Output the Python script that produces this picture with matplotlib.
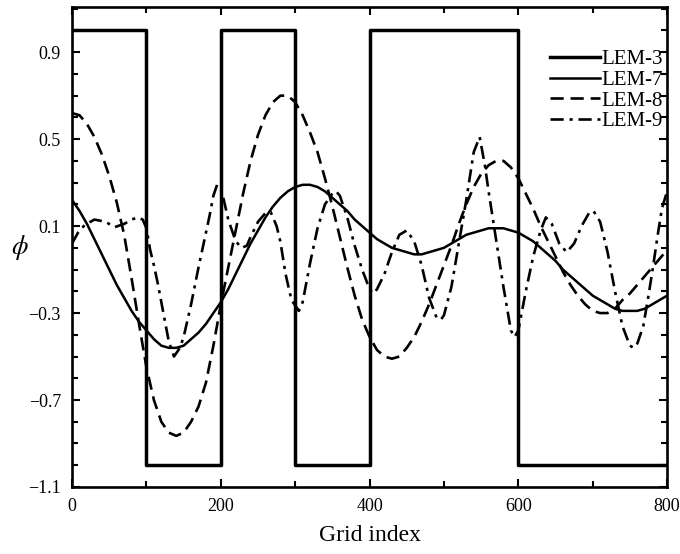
import matplotlib
matplotlib.use("Agg")
import matplotlib.pyplot as plt
from matplotlib.ticker import MultipleLocator

# LEM-3: piecewise constant levels between edges
LEM3_EDGES = [0, 100, 200, 300, 400, 600, 800]
LEM3_LEVELS = [1.0, -1.0, 1.0, -1.0, 1.0, -1.0]

# LEM-7 (solid), sampled every 10 grid points
LEM7_X = list(range(0, 801, 10))
LEM7_Y = [0.22, 0.17, 0.11, 0.04, -0.03, -0.10, -0.17, -0.23, -0.29, -0.34,
          -0.38, -0.42, -0.45, -0.46, -0.46, -0.45, -0.42, -0.39, -0.35, -0.30,
          -0.25, -0.19, -0.12, -0.05, 0.02, 0.08, 0.14, 0.19, 0.23, 0.26,
          0.28, 0.29, 0.29, 0.28, 0.26, 0.23, 0.20, 0.17, 0.13, 0.10,
          0.07, 0.04, 0.02, 0.00, -0.01, -0.02, -0.03, -0.03, -0.02, -0.01,
          0.00, 0.02, 0.04, 0.06, 0.07, 0.08, 0.09, 0.09, 0.09, 0.08,
          0.07, 0.05, 0.03, 0.00, -0.03, -0.06, -0.10, -0.13, -0.16, -0.19,
          -0.22, -0.24, -0.26, -0.28, -0.29, -0.29, -0.29, -0.28, -0.26, -0.24,
          -0.22]

# LEM-8 (dashed), sampled every 10 grid points
LEM8_X = list(range(0, 801, 10))
LEM8_Y = [0.62, 0.61, 0.57, 0.51, 0.43, 0.33, 0.21, 0.06, -0.14, -0.35,
          -0.55, -0.70, -0.80, -0.85, -0.865, -0.85, -0.80, -0.73, -0.62, -0.45,
          -0.26, -0.09, 0.08, 0.25, 0.40, 0.52, 0.61, 0.67, 0.70, 0.70,
          0.67, 0.61, 0.53, 0.44, 0.32, 0.19, 0.05, -0.09, -0.22, -0.33,
          -0.41, -0.47, -0.50, -0.51, -0.50, -0.46, -0.41, -0.34, -0.26, -0.17,
          -0.08, 0.01, 0.11, 0.20, 0.28, 0.34, 0.38, 0.40, 0.40, 0.37,
          0.32, 0.25, 0.18, 0.10, 0.03, -0.04, -0.11, -0.17, -0.22, -0.26,
          -0.29, -0.30, -0.30, -0.28, -0.24, -0.21, -0.17, -0.13, -0.09, -0.05,
          -0.01]

# LEM-9 (dash-dot), read at its turning points and in between
LEM9_X = [0, 8, 17, 30, 45, 57, 70, 80, 88, 95, 100, 105, 110, 115, 120, 125,
          130, 137, 145, 150, 160, 170, 175, 180, 185, 190, 195, 200, 204, 210,
          220, 228, 235, 240, 250, 260, 267, 275, 280, 287, 295, 305, 310, 320,
          330, 340, 350, 355, 360, 370, 380, 390, 400, 405, 410, 420, 430, 440,
          450, 460, 470, 480, 490, 496, 500, 510, 520, 530, 540, 548, 555, 560,
          570, 580, 590, 595, 600, 610, 620, 630, 637, 645, 655, 665, 675, 685,
          695, 701, 710, 720, 730, 740, 750, 755, 760, 768, 775, 781, 787, 793,
          800]
LEM9_Y = [0.02, 0.07, 0.105, 0.13, 0.12, 0.095, 0.11, 0.13, 0.14, 0.13,
          0.09, -0.01, -0.08, -0.16, -0.25, -0.34, -0.43, -0.50, -0.46, -0.41,
          -0.26, -0.09, -0.01, 0.07, 0.15, 0.24, 0.29, 0.27, 0.22, 0.13,
          0.03, 0.00, 0.01, 0.05, 0.12, 0.16, 0.165, 0.10, 0.03, -0.12,
          -0.24, -0.29, -0.25, -0.07, 0.09, 0.20, 0.25, 0.26, 0.24, 0.14,
          0.01, -0.10, -0.19, -0.21, -0.19, -0.12, -0.02, 0.06, 0.08, 0.03,
          -0.08, -0.23, -0.32, -0.33, -0.31, -0.18, 0.02, 0.22, 0.44, 0.51,
          0.38, 0.26, 0.04, -0.18, -0.38, -0.41, -0.38, -0.20, -0.04, 0.08,
          0.14, 0.11, 0.02, -0.02, 0.02, 0.10, 0.16, 0.17, 0.12, -0.02,
          -0.20, -0.36, -0.45, -0.46, -0.44, -0.36, -0.22, -0.09, 0.05, 0.18,
          0.26]

YTICKS = [-1.1, -0.7, -0.3, 0.1, 0.5, 0.9]
YTICK_LABELS = ["\u22121.1", "\u22120.7", "\u22120.3", "0.1", "0.5", "0.9"]
XTICKS = [0, 200, 400, 600, 800]

plt.rcParams["font.family"] = ["Liberation Serif", "DejaVu Serif"]
plt.rcParams["mathtext.fontset"] = "stix"

fig = plt.figure(figsize=(6.8, 5.54), dpi=100)
ax = fig.add_axes([0.106, 0.121, 0.875, 0.866])

ax.step(LEM3_EDGES, LEM3_LEVELS + LEM3_LEVELS[-1:], where="post",
        color="black", lw=2.5, label="LEM-3")
ax.plot(LEM7_X, LEM7_Y, color="black", lw=1.8, label="LEM-7")
ax.plot(LEM8_X, LEM8_Y, color="black", lw=1.9, ls=(0, (5, 2.6)), label="LEM-8")
ax.plot(LEM9_X, LEM9_Y, color="black", lw=1.9, ls=(0, (5, 2.2, 1.2, 2.2)),
        label="LEM-9")

ax.set_xlim(0, 800)
ax.set_ylim(-1.1, 1.107)
ax.set_xticks(XTICKS)
ax.set_yticks(YTICKS)
ax.set_yticklabels(YTICK_LABELS)
ax.xaxis.set_minor_locator(MultipleLocator(100))
ax.yaxis.set_minor_locator(MultipleLocator(0.1))
ax.tick_params(which="both", direction="in", top=True, right=True, width=1.5,
               labelsize=13, pad=8)
ax.tick_params(which="major", length=6)
ax.tick_params(which="minor", length=4)
for s in ax.spines.values():
    s.set_linewidth(1.9)

ax.set_xlabel("Grid index", fontsize=17, labelpad=7)
ax.set_ylabel(r"$\phi$", fontsize=19, rotation=0, labelpad=6, va="center")

ax.legend(loc="upper right", bbox_to_anchor=(1.0, 0.92), frameon=False,
          fontsize=15, borderaxespad=0, borderpad=0.2, labelspacing=0.05,
          handlelength=2.4, handletextpad=0.05)

fig.savefig("out.png", dpi=100)
